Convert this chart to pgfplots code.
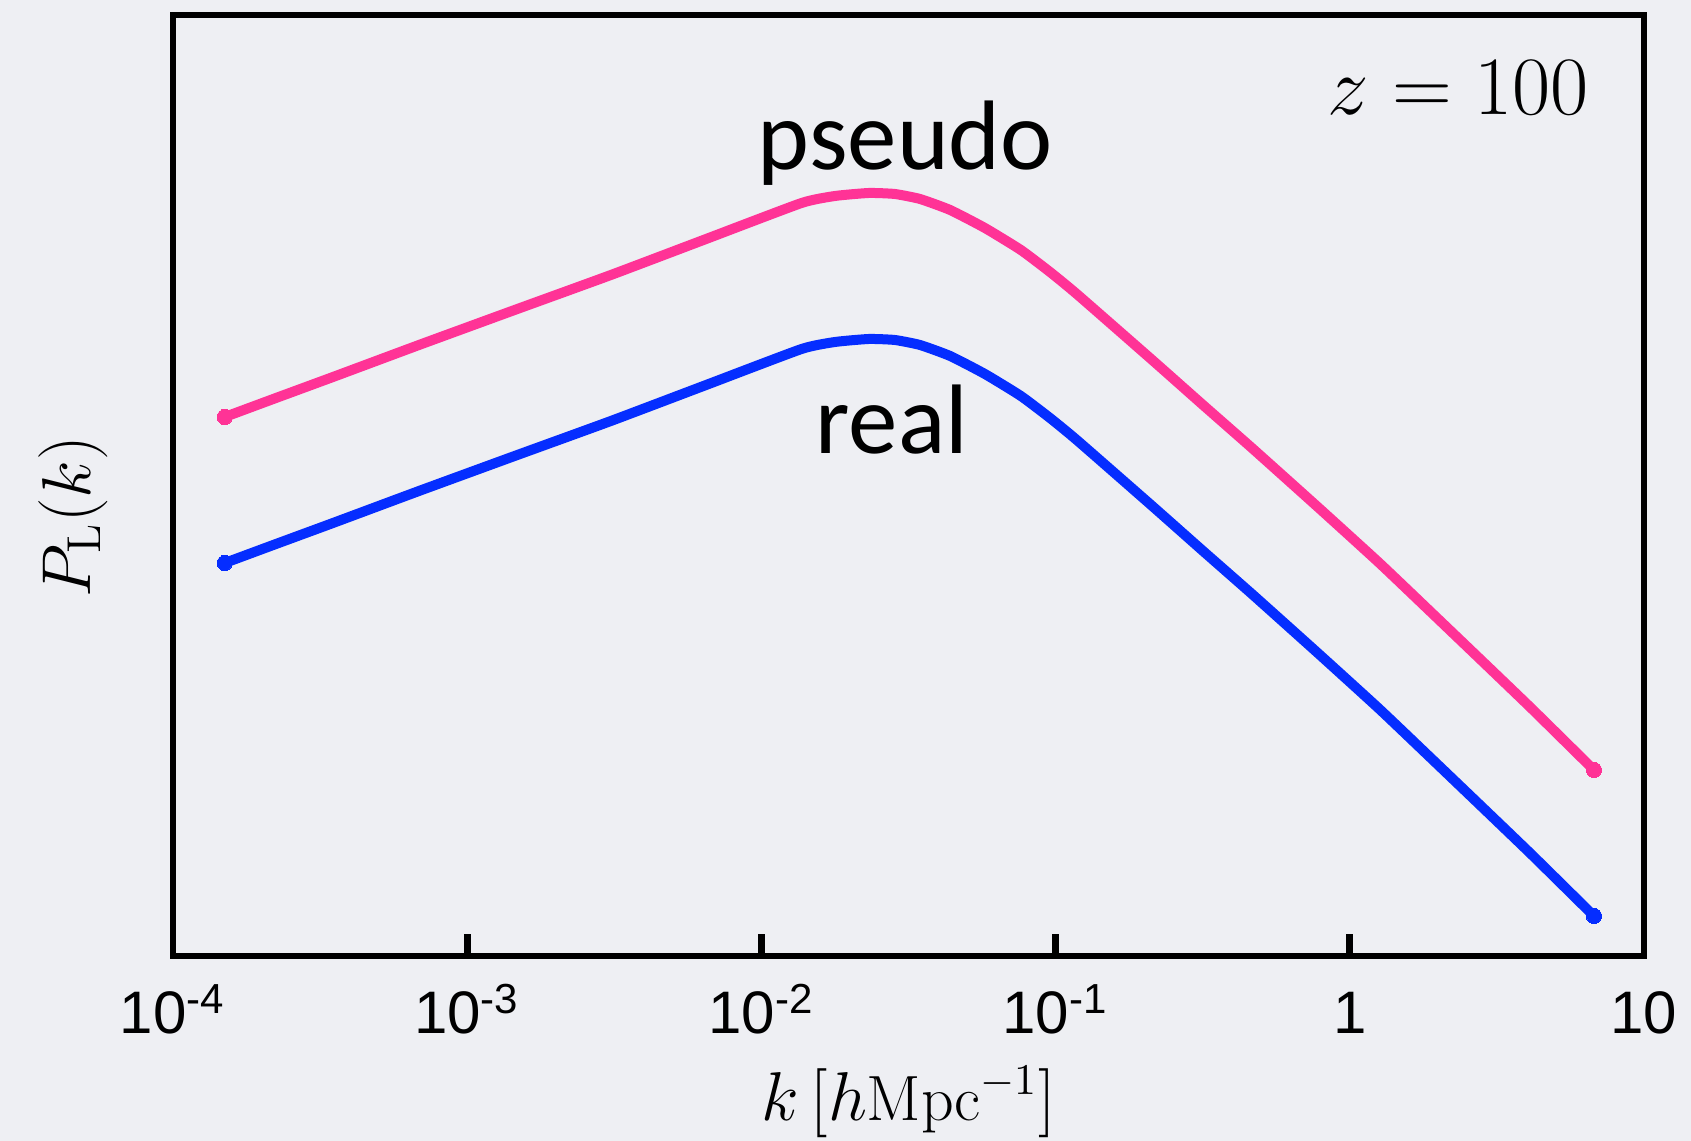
\documentclass[border=0pt]{standalone}
\usepackage{fontspec}
\usepackage{pgfplots}
\usepackage{pgfplotstable}
\pgfplotsset{compat=1.18}
\newfontfamily\tickfont{Liberation Sans}
\newfontfamily\labfont{Carlito}
\definecolor{bgc}{RGB}{238,239,243}
\definecolor{pinkc}{RGB}{255,51,150}
\definecolor{bluec}{RGB}{5,45,255}

\pgfplotstableread{
k        pseudo real
1.50e-4  539    393
2.24e-4  558    412
3.50e-4  579    433
6.86e-4  611    465
1.45e-3  646    500
3.08e-3  681    535
6.49e-3  717    571
1.37e-2  753    607
1.78e-2  760    614
2.32e-2  763    617
2.84e-2  762    616
3.46e-2  757    611
4.38e-2  746    600
5.75e-2  728    582
7.62e-2  706    560
9.57e-2  684    538
0.118    662    516
0.213    596    450
0.317    551    405
0.469    507    361
0.785    448    302
1.26     393    247
1.87     345    199
2.77     297    151
4.13     248    102
6.76     186    40
}\pk

\begin{document}
\begin{tikzpicture}
\fill[bgc] (0,0) rectangle (422.75pt,285.25pt);
\useasboundingbox (0,0) rectangle (422.75pt,285.25pt);
\begin{axis}[
  at={(43.25pt,46.25pt)}, anchor=south west,
  width=367.75pt, height=235.25pt, scale only axis,
  xmode=log, xmin=1e-4, xmax=10,
  ymin=0, ymax=941,
  axis line style={line width=1.5pt, black},
  ytick=\empty,
  xminorticks=false,
  xtick={1e-3,1e-2,1e-1,1},
  xticklabels={10\textsuperscript{-3},10\textsuperscript{-2},10\textsuperscript{-1},1},
  extra x ticks={1e-4,10},
  extra x tick labels={10\textsuperscript{-4},10},
  extra x tick style={major tick length=0pt},
  xtick pos=bottom, xtick align=inside,
  major tick length=5.5pt,
  every tick/.style={black, line width=1.8pt},
  xticklabel style={font=\tickfont\fontsize{15}{17}\selectfont, anchor=base, inner sep=0pt, yshift=-19.5pt},
  xlabel={$k\,[h\mathrm{Mpc}^{-1}]$},
  xlabel style={at={(axis description cs:0.5,-0.1753)}, anchor=base, inner sep=0pt, font=\fontsize{16}{19}\selectfont},
  ylabel={$P_{\mathrm{L}}(k)$},
  ylabel style={at={(axis description cs:-0.0564,0.4665)}, anchor=base, inner sep=0pt, rotate=0, font=\fontsize{17}{20}\selectfont},
  clip=false,
]
\addplot[pinkc, line width=2.5pt, line cap=round, line join=round, smooth, tension=0.3,
  mark=*, mark indices={1,26}, mark size=1.9pt, mark options={fill=pinkc, draw=pinkc, line width=0pt}]
  table[x=k, y=pseudo] {\pk};
\addplot[bluec, line width=2.5pt, line cap=round, line join=round, smooth, tension=0.3,
  mark=*, mark indices={1,26}, mark size=1.9pt, mark options={fill=bluec, draw=bluec, line width=0pt}]
  table[x=k, y=real] {\pk};
\node[anchor=base east, inner sep=0pt, font=\fontsize{19.5}{23}\selectfont] at (axis description cs:0.9633,0.8937) {$z=100$};
\node[anchor=base west, inner sep=0pt, font=\labfont\fontsize{24.7}{29}\selectfont] at (axis description cs:0.397,0.8353) {pseudo};
\node[anchor=base west, inner sep=0pt, font=\labfont\fontsize{24.7}{29}\selectfont] at (axis description cs:0.4364,0.5345) {real};
\end{axis}
\end{tikzpicture}
\end{document}
